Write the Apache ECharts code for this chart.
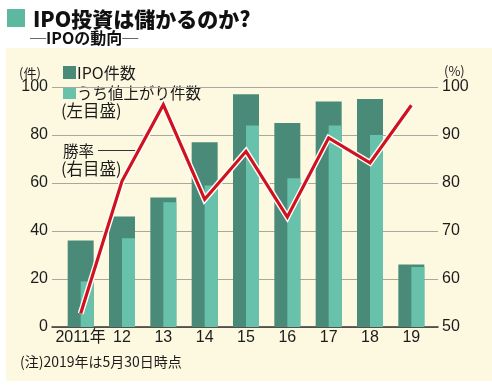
<!DOCTYPE html>
<html><head><meta charset="utf-8">
<script src="https://cdn.jsdelivr.net/npm/echarts@6/dist/echarts.min.js"></script>
<style>html,body{margin:0;padding:0;background:#fff}#c{width:492px;height:392px}</style>
</head><body><div id="c"></div>
<script>
const categories = ['2011年','12','13','14','15','16','17','18','19'];
const ipoCount = [36, 46, 54, 77, 97, 85, 94, 95, 26];
const risingCount = [19, 37, 52, 59, 84, 62, 84, 80, 25];
const winRate = [52.8, 80.4, 96.3, 76.6, 86.6, 72.9, 89.4, 84.2, 96.2];

const FONT = '"Liberation Sans", "Noto Sans CJK JP", sans-serif';
const JP = '"Noto Sans CJK JP", "Liberation Sans", sans-serif';
const DARK = '#4a8a78';
const LIGHT = '#68c1ab';
const TXT = '#1c1c1c';
const CREAM = '#fdf9e0';

const chart = echarts.init(document.getElementById('c'), null, {renderer: 'canvas'});
const gTop = 87, gBottom = 65;
chart.setOption({
  backgroundColor: CREAM,
  animation: false,
  grid: [
    {left: 52, right: 54, top: gTop, bottom: gBottom},
    {left: 60, right: 60, top: gTop, bottom: gBottom}
  ],
  xAxis: [
    {gridIndex: 0, type: 'value', min: 0, max: 1, axisLine: {show: true, onZero: false, lineStyle: {color: '#333', width: 1.5}},
     axisTick: {show: false}, axisLabel: {show: false}, splitLine: {show: false}},
    {gridIndex: 1, type: 'category', data: categories, axisLine: {show: false}, axisTick: {show: false},
     axisLabel: {color: TXT, fontSize: 16, fontFamily: FONT, margin: 3, interval: 0}}
  ],
  yAxis: [
    {gridIndex: 0, type: 'value', position: 'left', min: 0, max: 100, interval: 20,
     axisLine: {show: false}, axisTick: {show: false},
     axisLabel: {color: TXT, fontSize: 16, fontFamily: FONT, margin: 4},
     splitLine: {show: true, lineStyle: {color: '#a9a89f', width: 1}}},
    {gridIndex: 0, type: 'value', position: 'right', min: 50, max: 100, interval: 10,
     axisLine: {show: false}, axisTick: {show: false},
     axisLabel: {color: TXT, fontSize: 16, fontFamily: FONT, margin: 4},
     splitLine: {show: false}},
    {gridIndex: 1, type: 'value', min: 0, max: 100, show: false},
    {gridIndex: 1, type: 'value', min: 50, max: 100, show: false}
  ],
  series: [
    {name: 'IPO件数', type: 'bar', xAxisIndex: 1, yAxisIndex: 2, data: ipoCount,
     barWidth: 26, barGap: '-50%', itemStyle: {color: DARK}},
    {name: 'うち値上がり件数', type: 'bar', xAxisIndex: 1, yAxisIndex: 2, data: risingCount,
     barWidth: 13, barGap: '-50%', itemStyle: {color: LIGHT}},
    {name: '勝率bg', type: 'line', xAxisIndex: 1, yAxisIndex: 3, data: winRate, symbol: 'none', z: 5,
     lineStyle: {color: '#ffffff', width: 6, join: 'miter'}},
    {name: '勝率', type: 'line', xAxisIndex: 1, yAxisIndex: 3, data: winRate, symbol: 'none', z: 6,
     lineStyle: {color: '#d0121c', width: 3.2, join: 'miter'}}
  ],
  graphic: [
    {type: 'rect', shape: {x: 0, y: 0, width: 492, height: 48}, style: {fill: '#fff'}, silent: true},
    {type: 'rect', shape: {x: 0, y: 381, width: 492, height: 11}, style: {fill: '#fff'}, silent: true},
    {type: 'rect', shape: {x: 0, y: 0, width: 6, height: 392}, style: {fill: '#fff'}, silent: true},
    {type: 'rect', shape: {x: 7, y: 9, width: 18, height: 18}, style: {fill: '#5cb89e'}, silent: true},
    {type: 'text', x: 33, y: 19, style: {text: 'IPO投資は儲かるのか?', font: '900 21px ' + JP, fill: '#111', verticalAlign: 'middle'}},
    {type: 'text', x: 30, y: 38, style: {text: '─IPOの動向─', font: 'bold 16px ' + JP, fill: '#111', verticalAlign: 'middle'}},
    {type: 'text', x: 19, y: 73, style: {text: '(件)', font: '13px ' + JP, fill: TXT, verticalAlign: 'middle'}},
    {type: 'rect', shape: {x: 63, y: 66, width: 13, height: 13}, style: {fill: DARK}},
    {type: 'text', x: 77, y: 73, style: {text: 'IPO件数', font: '16px ' + JP, fill: TXT, verticalAlign: 'middle'}},
    {type: 'rect', shape: {x: 63, y: 87, width: 13, height: 12}, style: {fill: LIGHT}},
    {type: 'text', x: 77, y: 93, style: {text: 'うち値上がり件数', font: '15.5px ' + JP, fill: TXT, verticalAlign: 'middle'}},
    {type: 'text', x: 61, y: 111, style: {text: '(左目盛)', font: '16.5px ' + JP, fill: TXT, verticalAlign: 'middle'}},
    {type: 'text', x: 63, y: 151, style: {text: '勝率', font: '15.5px ' + JP, fill: TXT, verticalAlign: 'middle'}},
    {type: 'line', shape: {x1: 98, y1: 150.5, x2: 137, y2: 150.5}, style: {stroke: '#333', lineWidth: 1}},
    {type: 'text', x: 61, y: 169, style: {text: '(右目盛)', font: '16.5px ' + JP, fill: TXT, verticalAlign: 'middle'}},
    {type: 'text', x: 444, y: 71, style: {text: '(%)', font: '13px ' + JP, fill: TXT, verticalAlign: 'middle'}},
    {type: 'text', x: 20, y: 362, style: {text: '(注)2019年は5月30日時点', font: '14px ' + JP, fill: TXT, verticalAlign: 'middle'}}
  ]
});
</script></body></html>
